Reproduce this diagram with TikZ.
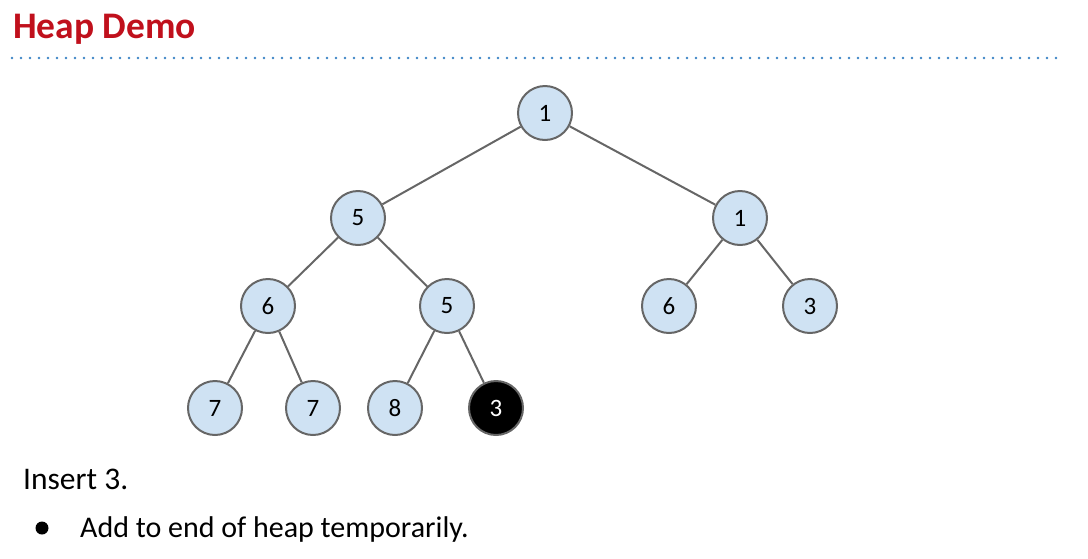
\documentclass[tikz,border=0pt]{standalone}
\usepackage{fontspec}
\setmainfont{Carlito}
\usetikzlibrary{positioning}
\definecolor{HeapRed}{HTML}{C0101C}
\definecolor{HeapBlue}{HTML}{3D85C6}
\definecolor{HeapFill}{HTML}{CFE2F3}
\definecolor{HeapGray}{HTML}{666666}
\begin{document}
\begin{tikzpicture}[x=1pt,y=-1pt,
    every node/.style={inner sep=0pt},
    heapnode/.style={circle,draw=HeapGray,line width=2pt,fill=HeapFill,minimum size=54pt,font=\fontsize{25}{30}\selectfont},
    newnode/.style={heapnode,fill=black,text=white},
    edge/.style={draw=HeapGray,line width=2pt}]
    \useasboundingbox (0,0) rectangle (1088,558);
    \node[anchor=base west,text=HeapRed,font=\fontsize{37.5}{44}\selectfont\bfseries] (title) at (13,38) {Heap Demo};
    \coordinate (ruleL) at (12,58);
    \coordinate (ruleR) at (1057,58);
    \draw[HeapBlue,line width=2.6pt,line cap=round,dash pattern=on 0pt off 9pt] (ruleL) -- (ruleR);
    % heap
    \node[heapnode] (n1) at (545,113) {1};
    \node[heapnode] (n2) at (358,218) {5};
    \node[heapnode] (n3) at (740,218) {1};
    \node[heapnode] (n4) at (268,306) {6};
    \node[heapnode] (n5) at (447,306) {5};
    \node[heapnode] (n6) at (669,306) {6};
    \node[heapnode] (n7) at (810,306) {3};
    \node[heapnode] (n8) at (215,408) {7};
    \node[heapnode] (n9) at (313,408) {7};
    \node[heapnode] (n10) at (395,408) {8};
    \node[newnode] (n11) at (496,408) {3};
    \foreach \a/\b in {n1/n2,n1/n3,n2/n4,n2/n5,n3/n6,n3/n7,n4/n8,n4/n9,n5/n10,n5/n11}
      \draw[edge] (\a) -- (\b);
    % text
    \node[anchor=base west,font=\fontsize{31.5}{38}\selectfont] (insert) at (23,489) {Insert 3.};
    \node[anchor=base west,font=\fontsize{30}{36}\selectfont] (step1) at (80,537) {Add to end of heap temporarily.};
    \node[circle,fill=black,minimum size=13pt] (dot1) at (42,528) {};
\end{tikzpicture}
\end{document}
